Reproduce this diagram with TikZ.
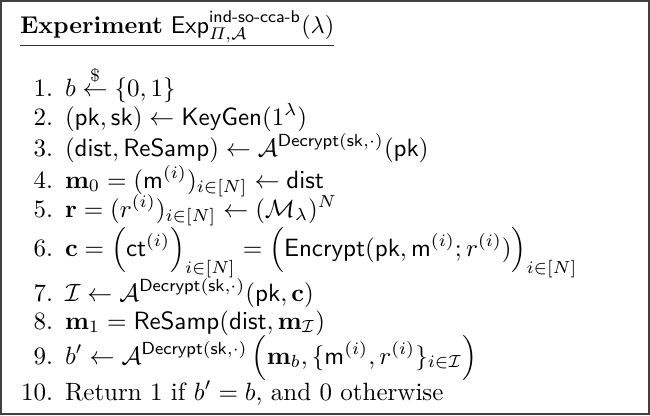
\documentclass[tikz,border=0pt]{standalone}
\usepackage{amsmath,amssymb}
\begin{document}
\begin{tikzpicture}[x=0.4pt,y=-0.4pt,
  txt/.style={anchor=base west,inner sep=0pt,outer sep=0pt},
  num/.style={anchor=base east,inner sep=0pt,outer sep=0pt},
  frame/.style={draw=black!75,line width=0.5pt}]
\useasboundingbox (0,0) rectangle (650,415);
\draw[frame] (1,1) rectangle (649,414);
\node[txt,scale=0.97] (title) at (20,33) {\textbf{Experiment} $\mathsf{Exp}^{\textsf{ind-so-cca-b}}_{\varPi,\mathcal{A}}(\lambda)$};
\coordinate (ul) at (0,45);
\draw[line width=0.4pt,black!80] (title.west |- ul) -- (title.east |- ul);

\node[num] (n1) at (53,96) {1.};
\node[txt] (l1) at (65,96) {$b \stackrel{\$}{\leftarrow} \{0,1\}$};
\node[num] (n2) at (53,125) {2.};
\node[txt] (l2) at (65,125) {$(\mathsf{pk},\mathsf{sk}) \leftarrow \mathsf{KeyGen}(1^\lambda)$};
\node[num] (n3) at (53,156) {3.};
\node[txt] (l3) at (65,156) {$(\mathsf{dist},\mathsf{ReSamp}) \leftarrow \mathcal{A}^{\mathsf{Decrypt}(\mathsf{sk},\cdot)}(\mathsf{pk})$};
\node[num] (n4) at (53,188) {4.};
\node[txt] (l4) at (65,188) {$\mathbf{m}_0 = (\mathsf{m}^{(i)})_{i\in[N]} \leftarrow \mathsf{dist}$};
\node[num] (n5) at (53,217) {5.};
\node[txt] (l5) at (65,217) {$\mathbf{r} = (r^{(i)})_{i\in[N]} \leftarrow (\mathcal{M}_\lambda)^N$};
\node[num] (n6) at (53,256) {6.};
\node[txt] (l6) at (65,256) {$\mathbf{c} = \Bigl(\mathsf{ct}^{(i)}\Bigr)_{i\in[N]} = \Bigl(\mathsf{Encrypt}(\mathsf{pk},\mathsf{m}^{(i)};r^{(i)})\Bigr)_{i\in[N]}$};
\node[num] (n7) at (53,301) {7.};
\node[txt] (l7) at (65,301) {$\mathcal{I} \leftarrow \mathcal{A}^{\mathsf{Decrypt}(\mathsf{sk},\cdot)}(\mathsf{pk},\mathbf{c})$};
\node[num] (n8) at (53,329) {8.};
\node[txt] (l8) at (65,329) {$\mathbf{m}_1 = \mathsf{ReSamp}(\mathsf{dist},\mathbf{m}_{\mathcal{I}})$};
\node[num] (n9) at (53,364) {9.};
\node[txt] (l9) at (65,364) {$b' \leftarrow \mathcal{A}^{\mathsf{Decrypt}(\mathsf{sk},\cdot)}\,\Bigl(\mathbf{m}_b,\{\mathsf{m}^{(i)},r^{(i)}\}_{i\in\mathcal{I}}\Bigr)$};
\node[num] (n10) at (53,400) {10.};
\node[txt] (l10) at (65,400) {Return 1 if $b'=b$, and 0 otherwise};
\end{tikzpicture}
\end{document}
